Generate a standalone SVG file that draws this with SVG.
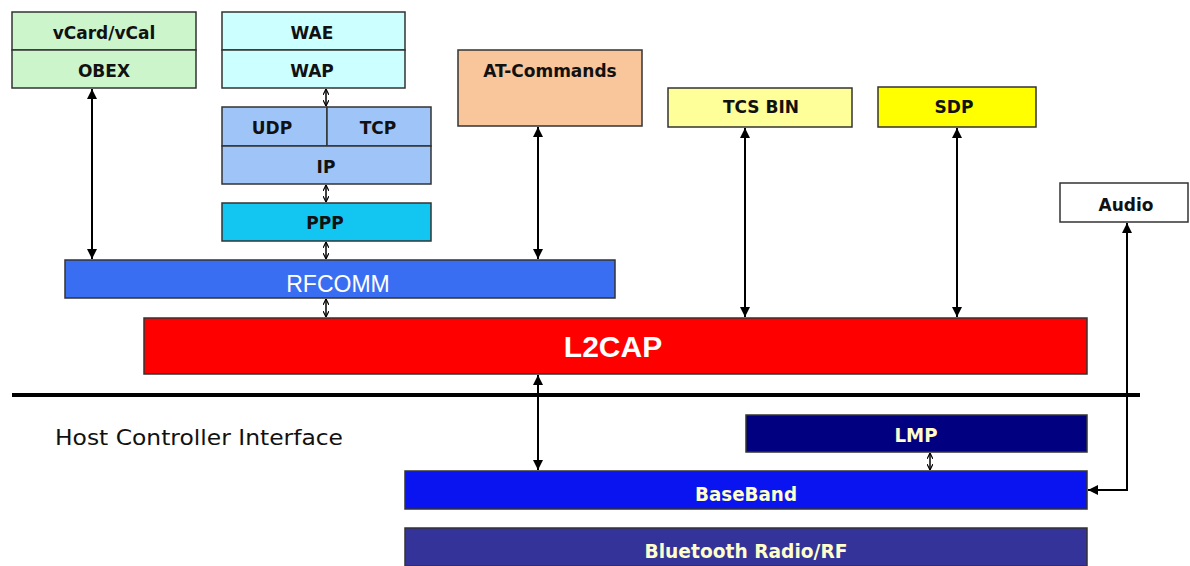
<svg xmlns="http://www.w3.org/2000/svg" width="1190" height="566" viewBox="0 0 1190 566">
<defs>
<marker id="ah" viewBox="0 0 10 10" refX="10" refY="5" markerWidth="10" markerHeight="10" markerUnits="userSpaceOnUse" orient="auto-start-reverse"><path d="M0,0 L10,5 L0,10 z" fill="#000"/></marker>
<marker id="sh" viewBox="0 0 10 10" refX="10" refY="5" markerWidth="6" markerHeight="6" markerUnits="userSpaceOnUse" orient="auto-start-reverse"><path d="M0,0 L10,5 L0,10" fill="none" stroke="#000" stroke-width="2"/></marker>
</defs>
<style>
.b{stroke:#333;stroke-width:1.5}
.t{font-family:"DejaVu Sans",Verdana,sans-serif;font-weight:bold;font-size:17px;fill:#111;text-anchor:middle}
.w{font-family:"DejaVu Sans",Verdana,sans-serif;font-weight:bold;font-size:20px;fill:#ffffcc;text-anchor:middle}
.c{stroke:#000;stroke-width:2;fill:none;marker-start:url(#ah);marker-end:url(#ah)}
.s{stroke:#000;stroke-width:1.5;fill:none;marker-start:url(#sh);marker-end:url(#sh)}
</style>
<rect width="1190" height="566" fill="#fff"/>
<g id="vcard"><rect class="b" x="12" y="12" width="184" height="38" fill="#ccf5cc"/><text class="t" x="104" y="39">vCard/vCal</text></g>
<g id="obex"><rect class="b" x="12" y="50" width="184" height="38" fill="#ccf5cc"/><text class="t" x="104" y="77">OBEX</text></g>
<g id="wae"><rect class="b" x="222" y="12" width="183" height="38" fill="#ccffff"/><text class="t" x="312" y="39">WAE</text></g>
<g id="wap"><rect class="b" x="222" y="50" width="183" height="38" fill="#ccffff"/><text class="t" x="312" y="77">WAP</text></g>
<g id="udp"><rect class="b" x="222" y="107" width="105" height="39" fill="#9fc5f8"/><text class="t" x="272" y="134">UDP</text></g>
<g id="tcp"><rect class="b" x="327" y="107" width="104" height="39" fill="#9fc5f8"/><text class="t" x="378" y="134">TCP</text></g>
<g id="ip"><rect class="b" x="222" y="146" width="209" height="38" fill="#9fc5f8"/><text class="t" x="326" y="173">IP</text></g>
<g id="ppp"><rect class="b" x="222" y="203" width="209" height="38" fill="#13c6f2"/><text class="t" x="325" y="229">PPP</text></g>
<g id="at"><rect class="b" x="458" y="50" width="184" height="76" fill="#f9c59a"/><text class="t" x="550" y="77">AT-Commands</text></g>
<g id="tcs"><rect class="b" x="668" y="88" width="184" height="39" fill="#ffff99"/><text class="t" x="761" y="113">TCS BIN</text></g>
<g id="sdp"><rect class="b" x="878" y="87" width="158" height="40" fill="#ffff00"/><text class="t" x="954" y="113">SDP</text></g>
<g id="audio"><rect class="b" x="1060" y="183" width="128" height="39" fill="#fff"/><text class="t" x="1126" y="211">Audio</text></g>
<g id="rfcomm"><rect class="b" x="65" y="260" width="550" height="38" fill="#3a6ef2"/><text x="338" y="292" font-family="'Liberation Sans',Arial,sans-serif" font-size="23" fill="#fff" text-anchor="middle">RFCOMM</text></g>
<g id="l2cap"><rect class="b" x="144" y="318" width="943" height="56" fill="#ff0000"/><text x="613" y="357" font-family="'Liberation Sans',Arial,sans-serif" font-weight="bold" font-size="30" fill="#fff" text-anchor="middle">L2CAP</text></g>
<g id="hci"><line x1="12" y1="395" x2="1140" y2="395" stroke="#000" stroke-width="4"/><text x="55" y="445" font-family="'DejaVu Sans',Verdana,sans-serif" font-size="21" fill="#111" textLength="288" lengthAdjust="spacingAndGlyphs">Host Controller Interface</text></g>
<g id="lmp"><rect class="b" x="746" y="415" width="341" height="37" fill="#000080"/><text class="w" x="916" y="442" textLength="43" lengthAdjust="spacingAndGlyphs">LMP</text></g>
<g id="baseband"><rect class="b" x="405" y="471" width="682" height="38" fill="#0a14f0"/><text class="w" x="746" y="501" textLength="102" lengthAdjust="spacingAndGlyphs">BaseBand</text></g>
<g id="radio"><rect class="b" x="405" y="528" width="682" height="38" fill="#333399"/><text class="w" x="746" y="558" textLength="203" lengthAdjust="spacingAndGlyphs">Bluetooth Radio/RF</text></g>
<g id="connectors">
<line class="c" x1="92" y1="89" x2="92" y2="259"/>
<line class="c" x1="538" y1="127" x2="538" y2="259"/>
<line class="c" x1="745" y1="128" x2="745" y2="317"/>
<line class="c" x1="957" y1="128" x2="957" y2="317"/>
<line class="c" x1="538" y1="375" x2="538" y2="470"/>
<path class="c" d="M1127,223 L1127,490 L1088,490"/>
<line class="s" x1="326" y1="89" x2="326" y2="106"/>
<line class="s" x1="326" y1="185" x2="326" y2="202"/>
<line class="s" x1="326" y1="242" x2="326" y2="259"/>
<line class="s" x1="326" y1="299" x2="326" y2="317"/>
<line class="s" x1="930" y1="453" x2="930" y2="470"/>
</g>
</svg>
